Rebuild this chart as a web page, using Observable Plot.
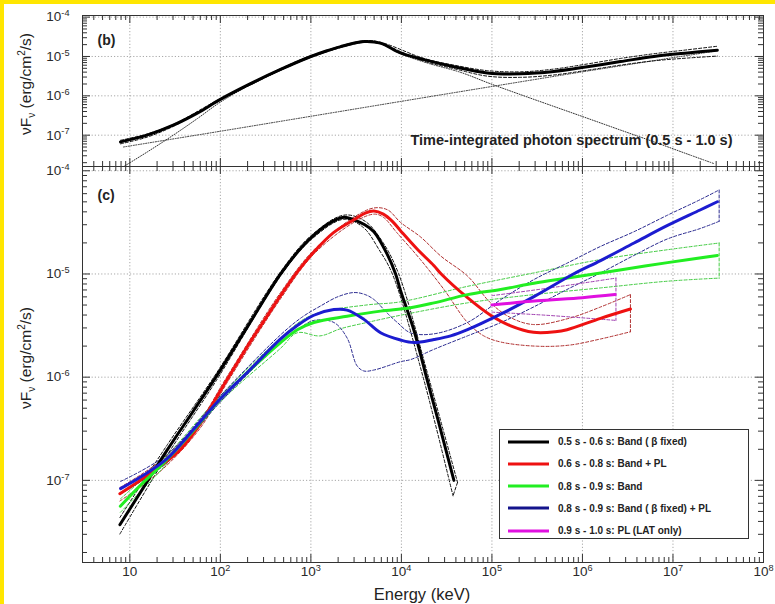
<!DOCTYPE html>
<html><head><meta charset="utf-8">
<script src="https://cdn.jsdelivr.net/npm/d3@7"></script>
<script src="https://cdn.jsdelivr.net/npm/@observablehq/plot@0.6"></script>
<style>
body{margin:0;background:#fff;}
#wrap{position:relative;width:775px;height:604px;overflow:hidden;background:#fff;font-family:"Liberation Sans",Arial,sans-serif;}
.abs{position:absolute;}
#legend{position:absolute;left:499px;top:429px;width:250px;height:110px;box-sizing:border-box;border:1px solid #333;background:#fff;}
.row{position:absolute;left:0;height:20px;display:flex;align-items:center;}
.row span{font-weight:bold;font-size:10px;color:#222;margin-left:9px;white-space:nowrap;}
.row svg{margin-left:8px;}
</style></head><body><div id="wrap"></div>
<script>
// ---- axis ticks / domains ----
const xDomain = [3, 1e8];
const yDomain = [1.6e-8, 1.1e-4];
const xMajor = [10, 1e2, 1e3, 1e4, 1e5, 1e6, 1e7, 1e8];
const yMajor = [1e-7, 1e-6, 1e-5, 1e-4];

// ---- panel (b): time-integrated spectrum, [log10 E(keV), log10 nuFnu] ----
const topTotal = [[0.897,-7.17],[1.19,-7.0],[1.486,-6.74],[1.745,-6.44],[2.0,-6.09],[2.3,-5.73],[2.665,-5.33],[3.0,-5.0],[3.17,-4.86],[3.33,-4.75],[3.46,-4.67],[3.587,-4.62],[3.77,-4.66],[3.99,-4.91],[4.25,-5.08],[4.58,-5.26],[4.95,-5.42],[5.317,-5.44],[5.685,-5.38],[6.054,-5.26],[6.42,-5.13],[6.79,-5.0],[7.16,-4.91],[7.49,-4.84]];
const topHi = [[0.897,-7.13],[1.19,-6.97],[1.486,-6.72],[2.0,-6.07],[2.665,-5.31],[3.0,-4.98],[3.587,-4.60],[3.77,-4.64],[4.25,-5.05],[4.58,-5.22],[4.95,-5.36],[5.317,-5.39],[5.685,-5.32],[6.054,-5.19],[6.42,-5.05],[6.79,-4.93],[7.16,-4.83],[7.49,-4.74]];
const topLo = [[0.897,-7.22],[1.19,-7.05],[1.486,-6.77],[2.0,-6.11],[2.665,-5.35],[3.0,-5.02],[3.587,-4.64],[3.77,-4.68],[4.25,-5.12],[4.58,-5.31],[4.95,-5.50],[5.317,-5.53],[5.685,-5.47],[6.054,-5.35],[6.42,-5.22],[6.79,-5.11],[7.16,-5.04],[7.49,-4.99]];
const topBand = [[0.93,-7.80],[1.19,-7.43],[1.486,-6.99],[1.745,-6.58],[2.0,-6.16],[2.3,-5.76],[2.665,-5.35],[3.0,-5.02],[3.17,-4.88],[3.33,-4.76],[3.46,-4.68],[3.587,-4.63],[3.77,-4.675],[3.99,-4.93],[4.29,-5.17],[4.65,-5.40],[4.98,-5.69],[5.317,-5.97],[5.685,-6.27],[6.054,-6.57],[6.42,-6.87],[6.79,-7.17],[7.16,-7.48],[7.45,-7.72]];
const topPL = [[0.93,-7.30],[2.0,-6.90],[3.0,-6.52],[4.21,-6.06],[5.06,-5.74],[6.0,-5.39],[7.45,-4.87]];

// ---- panel (c): time-resolved spectra ----
const blackFit = [[0.89,-7.43],[1.15,-7.07],[1.41,-6.71],[1.7,-6.33],[1.95,-6.0],[2.30,-5.51],[2.665,-5.0],[2.85,-4.79],[3.0,-4.65],[3.22,-4.50],[3.365,-4.45],[3.475,-4.475],[3.59,-4.52],[3.696,-4.59],[3.844,-4.81],[3.936,-5.0],[3.99,-5.16],[4.14,-5.55],[4.286,-6.03],[4.40,-6.40],[4.58,-7.0]];
const blackHi = [[0.89,-7.36],[1.41,-6.66],[1.95,-5.97],[2.665,-4.98],[3.0,-4.63],[3.365,-4.43],[3.60,-4.49],[3.80,-4.70],[3.97,-5.0],[4.30,-6.0],[4.62,-7.02]];
const blackLo = [[0.89,-7.52],[1.41,-6.76],[1.95,-6.04],[2.665,-5.02],[3.0,-4.67],[3.365,-4.47],[3.58,-4.55],[3.75,-4.76],[3.90,-5.0],[4.24,-6.0],[4.57,-7.15]];

const redFit = [[0.89,-7.13],[1.15,-6.98],[1.34,-6.86],[1.56,-6.70],[1.78,-6.45],[2.07,-6.03],[2.30,-5.70],[2.5,-5.43],[2.665,-5.21],[2.85,-4.98],[3.03,-4.79],[3.25,-4.60],[3.475,-4.475],[3.60,-4.41],[3.696,-4.39],[3.80,-4.42],[3.90,-4.49],[3.99,-4.58],[4.176,-4.76],[4.36,-4.92],[4.44,-5.0],[4.73,-5.23],[4.985,-5.40],[5.20,-5.50],[5.46,-5.565],[5.70,-5.56],[5.83,-5.54],[6.2,-5.43],[6.53,-5.34]];
const redHi = [[0.89,-7.07],[1.34,-6.81],[1.78,-6.41],[2.07,-6.00],[2.665,-5.18],[3.03,-4.77],[3.475,-4.45],[3.70,-4.36],[3.85,-4.38],[3.99,-4.50],[4.21,-4.64],[4.44,-4.83],[4.73,-5.02],[4.985,-5.28],[5.20,-5.42],[5.46,-5.49],[5.85,-5.43],[6.2,-5.32],[6.53,-5.20]];
const redLo = [[0.89,-7.20],[1.34,-6.91],[1.78,-6.49],[2.07,-6.06],[2.665,-5.24],[3.03,-4.81],[3.475,-4.50],[3.70,-4.42],[3.80,-4.45],[3.95,-4.60],[4.20,-4.85],[4.47,-5.15],[4.73,-5.47],[4.91,-5.60],[5.1,-5.66],[5.5,-5.70],[5.85,-5.69],[6.2,-5.63],[6.53,-5.56]];

const greenFit = [[0.895,-7.25],[1.15,-7.02],[1.376,-6.83],[1.7,-6.52],[2.0,-6.21],[2.297,-5.955],[2.665,-5.665],[2.85,-5.54],[3.033,-5.47],[3.40,-5.41],[3.77,-5.36],[4.083,-5.33],[4.36,-5.28],[4.73,-5.20],[5.096,-5.15],[5.464,-5.09],[5.833,-5.04],[6.2,-4.99],[6.57,-4.94],[6.94,-4.89],[7.49,-4.82]];
const greenHi = [[0.895,-7.18],[1.376,-6.79],[2.0,-6.18],[2.665,-5.62],[2.9,-5.45],[3.107,-5.37],[3.62,-5.30],[3.99,-5.27],[4.73,-5.12],[5.46,-4.99],[6.2,-4.86],[6.94,-4.765],[7.51,-4.70]];
const greenLo = [[0.895,-7.31],[1.376,-6.87],[2.0,-6.24],[2.665,-5.72],[2.85,-5.57],[3.1,-5.60],[3.33,-5.53],[3.62,-5.47],[3.99,-5.40],[4.73,-5.28],[5.46,-5.2],[6.2,-5.135],[6.94,-5.07],[7.51,-5.04]];

const blueFit = [[0.898,-7.08],[1.15,-6.95],[1.41,-6.79],[1.7,-6.51],[2.0,-6.21],[2.297,-5.955],[2.665,-5.63],[2.85,-5.50],[3.033,-5.40],[3.254,-5.345],[3.40,-5.35],[3.586,-5.44],[3.77,-5.57],[3.99,-5.64],[4.14,-5.665],[4.36,-5.635],[4.544,-5.60],[4.73,-5.54],[5.096,-5.39],[5.464,-5.22],[5.9,-5.0],[6.2,-4.87],[6.57,-4.70],[6.94,-4.53],[7.30,-4.38],[7.49,-4.30]];
const blueHi = [[0.898,-7.01],[1.41,-6.75],[2.0,-6.18],[2.665,-5.59],[2.9,-5.42],[3.107,-5.31],[3.30,-5.22],[3.476,-5.18],[3.60,-5.20],[3.70,-5.25],[3.844,-5.38],[3.955,-5.47],[4.10,-5.57],[4.36,-5.58],[4.73,-5.47],[5.096,-5.25],[5.464,-5.054],[5.833,-4.894],[6.2,-4.733],[6.57,-4.59],[6.94,-4.43],[7.30,-4.28],[7.51,-4.186]];
const blueLo = [[0.898,-7.13],[1.41,-6.83],[2.0,-6.24],[2.665,-5.67],[2.885,-5.52],[3.033,-5.45],[3.254,-5.47],[3.40,-5.62],[3.51,-5.89],[3.586,-5.94],[3.70,-5.93],[3.99,-5.85],[4.10,-5.83],[4.36,-5.73],[4.73,-5.60],[5.1,-5.47],[5.46,-5.32],[5.83,-5.15],[6.2,-4.99],[6.57,-4.82],[6.94,-4.66],[7.30,-4.56],[7.51,-4.49]];

const magFit = [[5.0,-5.30],[5.5,-5.26],[6.0,-5.23],[6.36,-5.20]];
const magHi = [[5.0,-5.21],[5.6,-5.14],[6.37,-5.04]];
const magLo = [[5.0,-5.37],[5.6,-5.40],[6.37,-5.45]];

// ---- legend ----
const legendLabels = ["0.5 s - 0.6 s: Band ( \u03b2 fixed)", "0.6 s - 0.8 s: Band + PL", "0.8 s - 0.9 s: Band", "0.8 s - 0.9 s: Band ( \u03b2 fixed) + PL", "0.9 s - 1.0 s: PL (LAT only)"];
const legendColors = ["#000000", "#ee1111", "#22ee22", "#14148c", "#e010e0"];

// ---- helpers ----
const pts = a => a.map(([e, f]) => ({E: 10 ** e, F: 10 ** f}));
const cap = (hi, lo) => pts([hi[hi.length - 1], lo[lo.length - 1]]);
function minorTicks([lo, hi]) {
  const out = [];
  for (let k = Math.floor(Math.log10(lo)); k <= Math.ceil(Math.log10(hi)); k++)
    for (let m = 2; m <= 9; m++) { const v = +(m * 10 ** k).toPrecision(6); if (v >= lo && v <= hi) out.push(v); }
  return out;
}
const xMinor = minorTicks(xDomain), yMinor = minorTicks(yDomain);
const W = 775, ML = 82, MR = 12, IW = W - ML - MR;
const fmtExp = d => { const k = Math.round(Math.log10(d)); return k === 1 ? "10" : "10^" + k; };

function deco(innerH) {
  const gs = {stroke: "#a8a8a8", strokeOpacity: 1, strokeDasharray: "1.2,2", strokeWidth: 1};
  const ts = {stroke: "#333", strokeWidth: 1};
  return [
    Plot.gridX(xMajor, gs),
    Plot.gridY(yMajor, gs),
    Plot.ruleY(yMinor, {y: d => d, insetRight: IW - 5, ...ts}),
    Plot.ruleY(yMinor, {y: d => d, insetLeft: IW - 5, ...ts}),
    Plot.ruleY(yMajor, {y: d => d, insetRight: IW - 8, ...ts}),
    Plot.ruleY(yMajor, {y: d => d, insetLeft: IW - 8, ...ts}),
    Plot.ruleX(xMinor, {x: d => d, insetTop: innerH - 5, ...ts}),
    Plot.ruleX(xMinor, {x: d => d, insetBottom: innerH - 5, ...ts}),
    Plot.ruleX(xMajor, {x: d => d, insetTop: innerH - 8, ...ts}),
    Plot.ruleX(xMajor, {x: d => d, insetBottom: innerH - 8, ...ts})
  ];
}
const style = {background: "transparent", fontFamily: "'Liberation Sans', Arial, sans-serif", fontSize: "13.5px", color: "#2a2a2a", overflow: "visible"};
const L = (data, o) => Plot.line(pts(data), {x: "E", y: "F", clip: true, curve: "catmull-rom", ...o});
const C = (data, o) => Plot.line(data, {x: "E", y: "F", clip: true, ...o});
const dash = c => ({stroke: c, strokeWidth: 1, strokeDasharray: "3,2"});

// ---- top panel ----
const TOP_H = 166, TOP_MT = 15;
const topPlot = Plot.plot({
  width: W, height: TOP_H, marginLeft: ML, marginRight: MR, marginTop: TOP_MT, marginBottom: 0, style,
  x: {type: "log", domain: xDomain, axis: null, label: null},
  y: {type: "log", domain: yDomain, label: null},
  marks: [
    ...deco(TOP_H - TOP_MT),
    Plot.axisY(yMajor, {anchor: "left", tickSize: 0, tickPadding: 13, tickFormat: fmtExp, label: null}),
    L(topBand, {stroke: "#333", strokeWidth: 1, strokeDasharray: "1,1.5"}),
    L(topPL, {stroke: "#333", strokeWidth: 1, strokeDasharray: "1,1.5"}),
    L(topHi, dash("#111")),
    L(topLo, dash("#111")),
    L(topTotal, {stroke: "#000", strokeWidth: 3}),
    Plot.frame({stroke: "#333"}),
    Plot.text(["(b)"], {frameAnchor: "top-left", dx: 15, dy: 20, fontWeight: "bold", fontSize: 14, fill: "#222"}),
    Plot.text(["Time-integrated photon spectrum (0.5 s - 1.0 s)"], {frameAnchor: "bottom-right", textAnchor: "end", dx: -31, dy: -22, fontWeight: "bold", fontSize: 14.5, fill: "#222"})
  ]
});

// ---- bottom panel ----
const BOT_H = 438, BOT_MB = 42;
const botPlot = Plot.plot({
  width: W, height: BOT_H, marginLeft: ML, marginRight: MR, marginTop: 0, marginBottom: BOT_MB, style,
  x: {type: "log", domain: xDomain, label: null},
  y: {type: "log", domain: yDomain, label: null},
  marks: [
    ...deco(BOT_H - BOT_MB),
    Plot.axisY(yMajor, {anchor: "left", tickSize: 0, tickPadding: 13, tickFormat: fmtExp, label: null}),
    Plot.axisX(xMajor, {anchor: "bottom", tickSize: 0, tickPadding: 4, tickFormat: fmtExp, label: null}),
    L(blackHi, dash("#111")), L(blackLo, dash("#111")), C(cap(blackHi, blackLo), dash("#111")),
    L(redHi, dash("#b03030")), L(redLo, dash("#b03030")), C(cap(redHi, redLo), dash("#b03030")),
    L(greenHi, dash("#44cc44")), L(greenLo, dash("#44cc44")), C(cap(greenHi, greenLo), dash("#44cc44")),
    L(blueHi, dash("#2a2a90")), L(blueLo, dash("#2a2a90")), C(cap(blueHi, blueLo), dash("#2a2a90")),
    L(magHi, dash("#a040b0")), L(magLo, dash("#a040b0")), C(cap(magHi, magLo), dash("#a040b0")),
    L(blackFit, {stroke: legendColors[0], strokeWidth: 3}),
    L(redFit, {stroke: legendColors[1], strokeWidth: 3}),
    L(greenFit, {stroke: "#22ee22", strokeWidth: 3}),
    L(blueFit, {stroke: "#1c1cd0", strokeWidth: 3}),
    L(magFit, {stroke: legendColors[4], strokeWidth: 3}),
    Plot.frame({stroke: "#333"}),
    Plot.text(["(c)"], {frameAnchor: "top-left", dx: 15, dy: 24, fontWeight: "bold", fontSize: 14, fill: "#222"})
  ]
});

const NS = "http://www.w3.org/2000/svg";
function supify(svg) {
  svg.querySelectorAll("text").forEach(t => {
    const m = /^10\^(.+)$/.exec(t.textContent);
    if (m) {
      t.textContent = "10";
      const ts = document.createElementNS(NS, "tspan");
      ts.setAttribute("dy", "-0.55em");
      ts.setAttribute("font-size", "68%");
      ts.textContent = m[1];
      t.appendChild(ts);
    }
  });
}
supify(topPlot); supify(botPlot);

const wrap = document.getElementById("wrap");
topPlot.classList.add("abs"); topPlot.style.left = "0px"; topPlot.style.top = "0px";
botPlot.classList.add("abs"); botPlot.style.left = "0px"; botPlot.style.top = TOP_H + "px";
wrap.appendChild(topPlot);
wrap.appendChild(botPlot);

// axis titles
const yLab = (cy) => `<text transform="translate(31,${cy}) rotate(-90)" text-anchor="middle" font-size="15.5" fill="#222">\u03bdF<tspan dy="4" font-size="10">\u03bd</tspan><tspan dy="-4"> (erg/cm</tspan><tspan dy="-6" font-size="10">2</tspan><tspan dy="6">/s)</tspan></text>`;
const over = document.createElement("div");
over.innerHTML = `<svg xmlns="${NS}" width="775" height="604" style="position:absolute;left:0;top:0;font-family:'Liberation Sans',Arial,sans-serif">
${yLab(84)}${yLab(358)}
<text x="422" y="600" text-anchor="middle" font-size="16.5" fill="#222">Energy (keV)</text>
</svg>`;
wrap.appendChild(over.firstElementChild);

// legend
const leg = document.createElement("div");
leg.id = "legend";
legendLabels.forEach((lab, i) => {
  const r = document.createElement("div");
  r.className = "row";
  r.style.top = (1.7 + i * 22.2) + "px";
  r.innerHTML = `<svg width="41" height="6"><line x1="0" y1="3" x2="41" y2="3" stroke="${legendColors[i]}" stroke-width="3"/></svg><span>${lab}</span>`;
  leg.appendChild(r);
});
wrap.appendChild(leg);

// yellow frame
const y1 = document.createElement("div");
y1.className = "abs"; Object.assign(y1.style, {left: "0px", top: "0px", width: "4px", height: "604px", background: "#ffe600"});
const y2 = document.createElement("div");
y2.className = "abs"; Object.assign(y2.style, {left: "0px", top: "0px", width: "775px", height: "4px", background: "#ffe600"});
wrap.appendChild(y1); wrap.appendChild(y2);
</script></body></html>
